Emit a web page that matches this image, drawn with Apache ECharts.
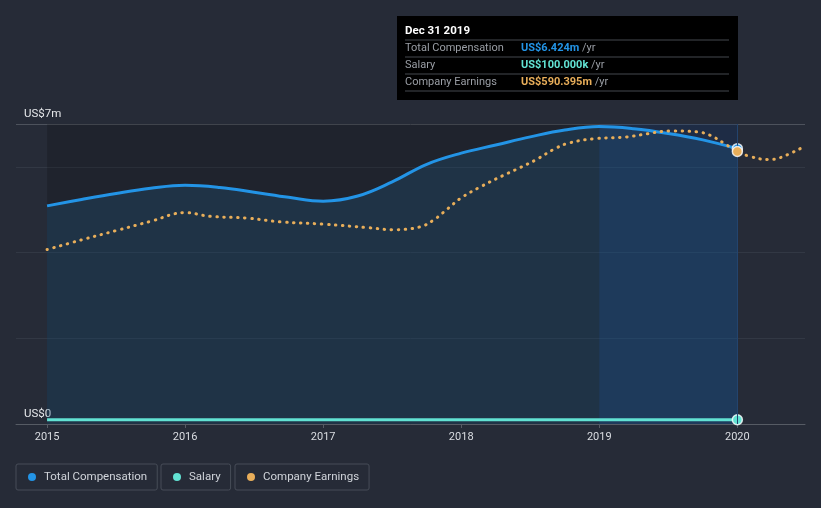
<!DOCTYPE html>
<html><head><meta charset="utf-8">
<script src="https://cdn.jsdelivr.net/npm/echarts@6/dist/echarts.min.js"></script>
<style>html,body{margin:0;padding:0;background:#262b37;}#c{width:821px;height:508px;}</style>
</head><body><div id="c"></div>
<script>
// ---- data ----
const yearTicks = [2015, 2016, 2017, 2018, 2019, 2020];
const compYears = [2015, 2015.25, 2015.5, 2015.75, 2016, 2016.25, 2016.5, 2016.75, 2017, 2017.25, 2017.5, 2017.75, 2018, 2018.25, 2018.5, 2018.75, 2019, 2019.25, 2019.5, 2019.75, 2020];
const compValues = [5.09, 5.24, 5.38, 5.50, 5.57, 5.52, 5.41, 5.29, 5.20, 5.32, 5.65, 6.06, 6.32, 6.51, 6.70, 6.86, 6.94, 6.89, 6.78, 6.63, 6.424]; // US$m
const salaryYears = [2015, 2020];
const salaryValues = [0.1, 0.1]; // US$m
const earnYears = [2015, 2015.25, 2015.5, 2015.75, 2016, 2016.18, 2016.45, 2016.69, 2017, 2017.34, 2017.5, 2017.7, 2017.8, 2017.9, 2018, 2018.14, 2018.3, 2018.43, 2018.55, 2018.67, 2018.77, 2018.96, 2019.2, 2019.35, 2019.51, 2019.71, 2019.8, 2019.9, 2020, 2020.1, 2020.22, 2020.31, 2020.49];
const earnValues = [378, 399, 419, 439, 458, 450, 446, 438, 433, 425, 421, 427, 442, 466, 490, 514, 538, 556, 574, 595, 608, 618, 622, 629, 635, 633, 626, 609, 590.395, 579, 573, 577, 602]; // US$m
const tipTitle = 'Dec 31 2019';
const tipComp = 'US$6.424m';
const tipSalary = 'US$100.000k';
const tipEarn = 'US$590.395m';

const C_COMP = '#2394e6', C_SAL = '#62e2d3', C_EARN = '#e8ae5a';
const FONT = 'Roboto, "Noto Sans", sans-serif';

function pts(xs, ys, hiIndex, color) {
  return xs.map((x, i) => {
    const d = { value: [x, ys[i]] };
    if (i === hiIndex) {
      d.symbol = 'circle'; d.symbolSize = 10;
      d.itemStyle = { color: color, borderColor: 'rgba(255,255,255,0.8)', borderWidth: 1.5 };
    }
    return d;
  });
}

const chart = echarts.init(document.getElementById('c'), null, { renderer: 'canvas' });

function legend(name, left) {
  return {
    data: [name], left: left, top: 464, icon: 'circle', itemWidth: 8, itemHeight: 8,
    borderColor: '#474d58', borderWidth: 1, borderRadius: 2, padding: [7, 10, 7, 12],
    textStyle: { color: '#d0d4da', fontSize: 11.5, fontFamily: FONT, padding: [0, 0, 0, 3] },
    selectedMode: false
  };
}

const rowY = [48, 65, 82];
const tip = [
  { type: 'rect', shape: { x: 397, y: 16, width: 341, height: 84 }, style: { fill: '#000000' } },
  { type: 'text', style: { x: 405, y: 31, text: tipTitle, fill: '#ffffff', font: 'bold 11.5px ' + FONT, verticalAlign: 'middle' } }
];
[40, 57, 74, 91].forEach(y => tip.push({ type: 'line', shape: { x1: 405, y1: y, x2: 729, y2: y }, style: { stroke: '#45484e', lineWidth: 1 } }));
[['Total Compensation', tipComp, C_COMP], ['Salary', tipSalary, C_SAL], ['Company Earnings', tipEarn, C_EARN]].forEach((r, i) => {
  tip.push({ type: 'text', style: { x: 405, y: rowY[i], text: r[0], fill: '#9a9ea5', font: '11px ' + FONT, verticalAlign: 'middle' } });
  tip.push({ type: 'text', style: { x: 521, y: rowY[i], text: '{v|' + r[1] + '}{u| /yr}', verticalAlign: 'middle',
    rich: { v: { fill: r[2], font: 'bold 11px ' + FONT }, u: { fill: '#9a9ea5', font: '11px ' + FONT } } } });
});

chart.setOption({
  backgroundColor: '#262b37',
  animation: false,
  grid: { left: 16, right: 16, top: 124, bottom: 84 },
  legend: [legend('Total Compensation', 16), legend('Salary', 161), legend('Company Earnings', 235)],
  xAxis: {
    type: 'value', min: 2014.775, max: 2020.49,
    axisLine: { lineStyle: { color: '#565b64', width: 1 } },
    axisTick: { show: true, length: 4, customValues: yearTicks, lineStyle: { color: '#565b64' } },
    axisLabel: { customValues: yearTicks, formatter: v => String(Math.round(v)), color: '#dadde2', fontSize: 11, fontFamily: FONT, margin: 8 },
    splitLine: { show: false }
  },
  yAxis: [{
    type: 'value', min: 0, max: 7, interval: 2,
    axisLine: { show: false }, axisTick: { show: false },
    axisLabel: { inside: true, margin: 8, verticalAlign: 'bottom', padding: [0, 0, 4, 0], color: '#e6e8eb', fontSize: 11.5, fontFamily: FONT,
      formatter: v => v === 7 ? 'US$7m' : (v === 0 ? 'US$0' : '') },
    splitLine: { lineStyle: { color: ['#565b64', '#323844', '#323844', '#323844', '#4d525c'], width: 1 } }
  }, {
    type: 'value', min: 0, max: 650, show: false, splitLine: { show: false }
  }],
  series: [
    {
      name: 'Total Compensation', type: 'line', smooth: 0.4, symbol: 'none', z: 3,
      data: pts(compYears, compValues, compValues.length - 1, C_COMP),
      lineStyle: { color: C_COMP, width: 3 }, itemStyle: { color: C_COMP },
      areaStyle: { color: 'rgba(35,148,230,0.2)' },
      markArea: {
        silent: true,
        data: [
          [{ xAxis: yearTicks[0], yAxis: 0, itemStyle: { color: 'rgba(0,0,0,0.17)' } }, { xAxis: yearTicks[5], yAxis: 7 }],
          [{ xAxis: yearTicks[4], yAxis: 0, itemStyle: { color: 'rgba(25,110,230,0.13)' } }, { xAxis: yearTicks[5], yAxis: 7 }]
        ]
      },
      markLine: { silent: true, symbol: 'none', label: { show: false }, lineStyle: { color: '#23446e', width: 1, type: 'solid' }, data: [{ xAxis: yearTicks[5] }] }
    },
    {
      name: 'Salary', type: 'line', symbol: 'none', z: 4,
      data: pts(salaryYears, salaryValues, salaryValues.length - 1, C_SAL),
      lineStyle: { color: C_SAL, width: 3 }, itemStyle: { color: C_SAL }
    },
    {
      name: 'Company Earnings', type: 'line', yAxisIndex: 1, smooth: 0.4, symbol: 'none', z: 5,
      data: pts(earnYears, earnValues, earnYears.indexOf(2020), C_EARN),
      lineStyle: { color: C_EARN, width: 3, type: [0.5, 6.5], cap: 'round' }, itemStyle: { color: C_EARN }
    }
  ],
  graphic: tip
});
</script></body></html>
